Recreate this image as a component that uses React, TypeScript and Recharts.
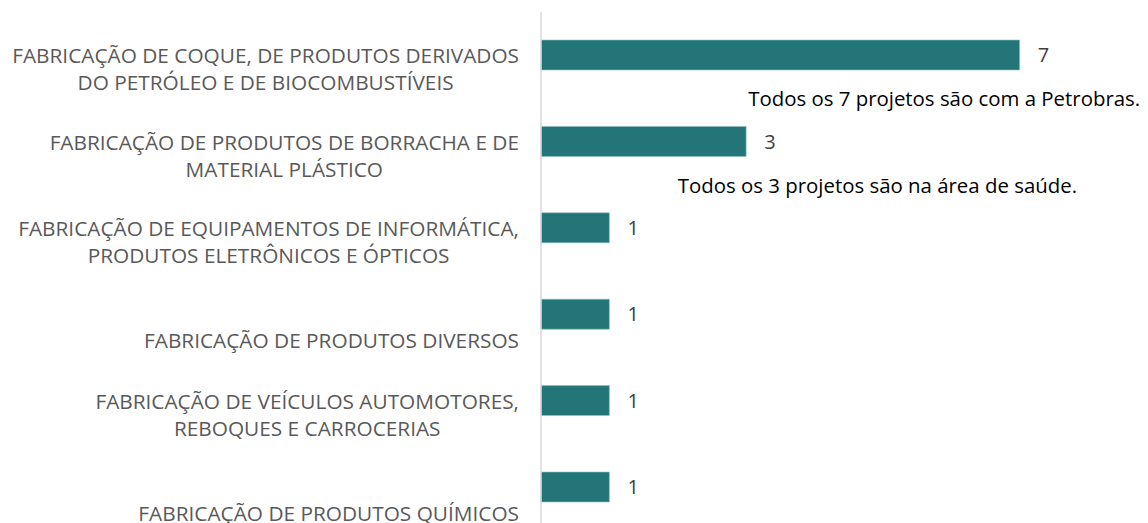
import React from 'react';
import { BarChart, Bar, XAxis, YAxis, LabelList, ReferenceDot } from 'recharts';

const categories = [
  'FABRICAÇÃO DE COQUE, DE PRODUTOS DERIVADOS\nDO PETRÓLEO E DE BIOCOMBUSTÍVEIS',
  'FABRICAÇÃO DE PRODUTOS DE BORRACHA E DE\nMATERIAL PLÁSTICO',
  'FABRICAÇÃO DE EQUIPAMENTOS DE INFORMÁTICA,\nPRODUTOS ELETRÔNICOS E ÓPTICOS',
  'FABRICAÇÃO DE PRODUTOS DIVERSOS',
  'FABRICAÇÃO DE VEÍCULOS AUTOMOTORES,\nREBOQUES E CARROCERIAS',
  'FABRICAÇÃO DE PRODUTOS QUÍMICOS',
];
const projetos = [7, 3, 1, 1, 1, 1];

// notas explicativas: categoria, onde começa o texto (em unidades do eixo x)
const notas = [
  { cat: 0, x: 3.03, text: 'Todos os 7 projetos são com a Petrobras.' },
  { cat: 1, x: 2.0, text: 'Todos os 3 projetos são na área de saúde.' },
];

const data = categories.map((name, i) => ({ name, projetos: projetos[i] }));

const FONT = '"Open Sans", sans-serif';
const TICK_SIZE = 20.8;
const BAND = 86.4;

let ctx: CanvasRenderingContext2D | null = null;
const measure = (s: string) => {
  if (!ctx) ctx = document.createElement('canvas').getContext('2d');
  if (!ctx) return s.length * TICK_SIZE * 0.6;
  ctx.font = `${TICK_SIZE}px "Open Sans"`;
  return ctx.measureText(s).width;
};

const CategoryTick = ({ x, y, payload }: any) => {
  const lines = String(payload.value).split('\n');
  const right = x - 14;
  // wrapped labels are centred within their block, block is right-aligned
  const blockW = Math.max(...lines.map(measure));
  const cx = right - blockW / 2;
  // single-line labels sit on the second line position, like the original
  const start = lines.length === 1 ? 26 : 0;
  return (
    <text textAnchor="middle" fill="#595959" fontFamily={FONT} fontSize={TICK_SIZE}>
      {lines.map((l, i) => (
        <tspan key={i} x={cx} y={y + start + i * 27} dominantBaseline="central">
          {l}
        </tspan>
      ))}
    </text>
  );
};

const NoteLabel = (text: string) => ({ viewBox }: any) => (
  <text
    x={viewBox.x}
    y={viewBox.y + BAND / 2}
    dominantBaseline="central"
    fill="#000"
    fontFamily={FONT}
    fontSize={20.4}
  >
    {text}
  </text>
);

export default function App() {
  return (
    <BarChart
      width={1140}
      height={540}
      data={data}
      layout="vertical"
      margin={{ top: 4, right: 60, bottom: 17.6, left: 0 }}
      barCategoryGap={0}
    >
      <XAxis type="number" domain={[0, 8]} hide />
      <YAxis
        type="category"
        dataKey="name"
        width={533}
        axisLine={{ stroke: '#d9d9d9', strokeWidth: 1.5 }}
        tickLine={false}
        interval={0}
        tick={<CategoryTick />}
      />
      <Bar dataKey="projetos" fill="#237578" stroke="#8fbfc2" strokeWidth={0.6} barSize={30} isAnimationActive={false}>
        <LabelList
          dataKey="projetos"
          position="right"
          offset={18}
          fill="#404040"
          fontFamily={FONT}
          fontSize={20}
        />
      </Bar>
      {notas.map((n) => (
        <ReferenceDot
          key={n.cat}
          x={n.x}
          y={categories[n.cat]}
          r={0}
          ifOverflow="visible"
          label={NoteLabel(n.text)}
        />
      ))}
    </BarChart>
  );
}
